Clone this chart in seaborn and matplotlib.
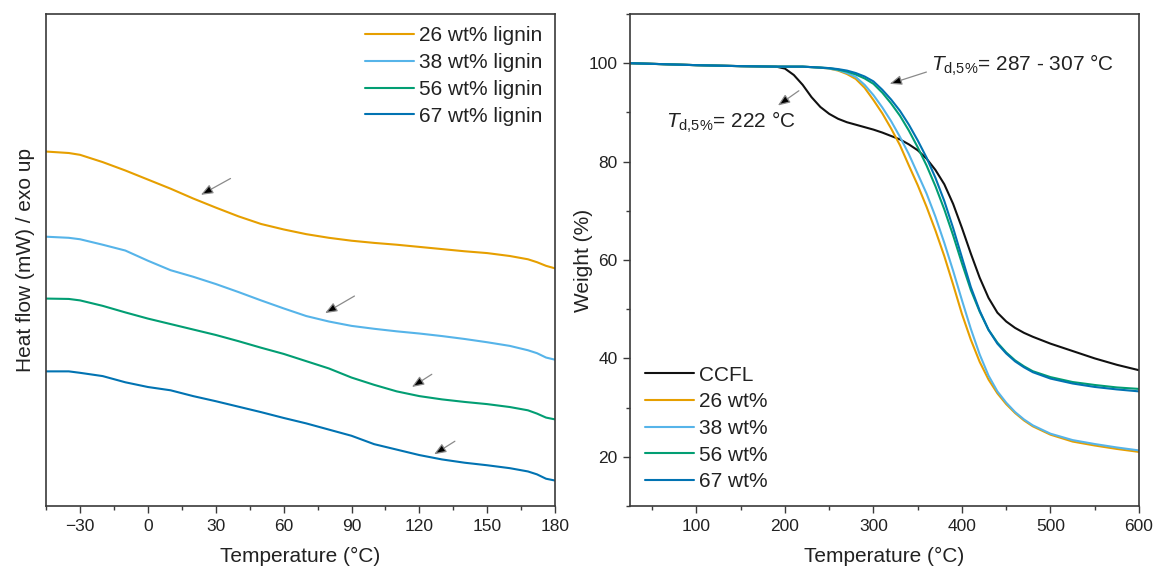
import numpy as np
import pandas as pd
import matplotlib
matplotlib.use("Agg")
import matplotlib.pyplot as plt
from matplotlib.ticker import MultipleLocator
import seaborn as sns

# ---------------- DSC (left) ----------------
dsc_temp = [-45, -35, -30, -20, -10, 0, 10, 20, 30, 40, 50, 60, 70, 80, 90, 100,
            110, 120, 130, 140, 150, 160, 168, 172, 176, 180]
dsc_26 = [9.74, 9.70, 9.65, 9.45, 9.22, 8.97, 8.72, 8.45, 8.20, 7.96, 7.75, 7.60, 7.47,
          7.37, 7.29, 7.23, 7.18, 7.12, 7.06, 7.00, 6.95, 6.87, 6.78, 6.70, 6.60, 6.53]
dsc_38 = [7.40, 7.37, 7.33, 7.18, 7.02, 6.74, 6.48, 6.30, 6.10, 5.88, 5.65, 5.43, 5.22,
          5.07, 4.95, 4.87, 4.80, 4.74, 4.67, 4.59, 4.50, 4.40, 4.28, 4.20, 4.08, 4.02]
dsc_56 = [5.70, 5.69, 5.65, 5.50, 5.32, 5.15, 5.00, 4.85, 4.70, 4.53, 4.35, 4.18, 3.98,
          3.78, 3.53, 3.33, 3.15, 3.02, 2.93, 2.86, 2.80, 2.72, 2.63, 2.54, 2.43, 2.38]
dsc_67 = [3.70, 3.70, 3.66, 3.57, 3.40, 3.27, 3.18, 3.02, 2.88, 2.73, 2.58, 2.42, 2.27,
          2.10, 1.93, 1.70, 1.55, 1.40, 1.28, 1.19, 1.12, 1.04, 0.95, 0.87, 0.75, 0.70]
dsc_labels = ["26 wt% lignin", "38 wt% lignin", "56 wt% lignin", "67 wt% lignin"]
# glass transition markers: (tail T, tail HF, head T, head HF)
tg_arrows = [(36.5, 9.00, 23.4, 8.55), (91.3, 5.77, 78.3, 5.30),
             (125.5, 3.62, 116.7, 3.27), (135.7, 1.78, 126.5, 1.42)]
dsc_xticks = [-30, 0, 30, 60, 90, 120, 150, 180]

# ---------------- TGA (right) ----------------
tga_temp = [25, 100, 150, 190, 200, 210, 220, 230, 240, 250, 260, 270, 280, 290, 300,
            310, 320, 330, 340, 350, 360, 370, 380, 390, 400, 410, 420, 430, 440, 450,
            460, 470, 480, 500, 525, 550, 575, 600]
tga_ccfl = [100, 99.6, 99.4, 99.3, 98.9, 97.6, 95.6, 93.1, 91.1, 89.7, 88.7, 88.0, 87.5,
            87.0, 86.5, 85.9, 85.2, 84.5, 83.5, 82.3, 80.6, 78.3, 75.4, 71.4, 66.5, 61.3,
            56.4, 52.3, 49.3, 47.5, 46.2, 45.2, 44.4, 43.0, 41.5, 40.0, 38.7, 37.6]
tga_26 = [100, 99.6, 99.4, 99.3, 99.3, 99.3, 99.3, 99.2, 99.1, 98.9, 98.5, 97.8, 96.8,
          95.0, 92.5, 89.8, 86.7, 83.3, 79.2, 75.2, 70.8, 66.0, 60.8, 55.0, 49.0, 43.8,
          39.3, 35.7, 32.9, 30.7, 28.9, 27.4, 26.2, 24.5, 23.1, 22.3, 21.6, 21.0]
tga_38 = [100, 99.6, 99.4, 99.3, 99.3, 99.3, 99.3, 99.2, 99.1, 98.9, 98.6, 98.0, 97.2,
          95.6, 93.5, 91.0, 88.2, 85.0, 81.5, 77.5, 73.5, 68.8, 63.5, 57.8, 51.8, 46.0,
          40.8, 36.5, 33.3, 31.0, 29.1, 27.6, 26.4, 24.7, 23.4, 22.6, 21.9, 21.3]
tga_56 = [100, 99.6, 99.4, 99.3, 99.3, 99.3, 99.3, 99.2, 99.1, 99.0, 98.7, 98.3, 97.7,
          96.9, 95.8, 94.0, 91.8, 89.3, 86.3, 82.9, 79.2, 75.0, 70.3, 65.0, 59.3, 53.9,
          49.5, 45.8, 43.2, 41.2, 39.6, 38.4, 37.4, 36.2, 35.2, 34.6, 34.1, 33.8]
tga_67 = [100, 99.6, 99.4, 99.3, 99.3, 99.3, 99.3, 99.2, 99.1, 99.0, 98.8, 98.5, 98.0,
          97.3, 96.3, 94.6, 92.6, 90.3, 87.5, 84.3, 80.8, 76.7, 72.0, 66.5, 60.5, 54.5,
          49.7, 45.8, 43.0, 41.0, 39.4, 38.2, 37.2, 35.9, 34.9, 34.2, 33.7, 33.3]
tga_labels = ["CCFL", "26 wt%", "38 wt%", "56 wt%", "67 wt%"]

# ---------------- style ----------------
sns.set_theme(style="ticks")
plt.rcParams["font.family"] = ["Liberation Sans", "DejaVu Sans"]
plt.rcParams["mathtext.fontset"] = "custom"
plt.rcParams["mathtext.rm"] = "Liberation Sans"
plt.rcParams["mathtext.it"] = "Liberation Sans:italic"

cb = sns.color_palette("colorblind")
c_black = "#111111"
c_26, c_38, c_56, c_67 = "#E69F00", cb[9], cb[2], cb[0]
spine_col = "#3a3a3a"
text_col = "#222222"

fig = plt.figure(figsize=(11.54, 5.71), dpi=100)
ax1 = fig.add_axes([0.040, 0.1138, 0.441, 0.8617])
ax2 = fig.add_axes([0.546, 0.1138, 0.441, 0.8617])

LW = 1.5
ARROW = dict(arrowstyle="-|>,head_length=0.6,head_width=0.24",
             fc="black", ec="#8a8a8a", lw=0.9, shrinkA=0, shrinkB=0)

# DSC curves
for vals, col, lab in zip([dsc_26, dsc_38, dsc_56, dsc_67], [c_26, c_38, c_56, c_67], dsc_labels):
    df = pd.DataFrame({"T": dsc_temp, "HF": vals})
    sns.lineplot(data=df, x="T", y="HF", ax=ax1, color=col, lw=LW, label=lab,
                 estimator=None, sort=False)

for tx, ty, hx, hy in tg_arrows:
    ax1.annotate("", xy=(hx, hy), xytext=(tx, ty), arrowprops=ARROW)

ax1.set_xlim(-45, 180)
ax1.set_ylim(0, 13.52)
ax1.set_xticks(dsc_xticks)
ax1.set_xticklabels([f"\u2212{abs(t)}" if t < 0 else str(t) for t in dsc_xticks])
ax1.xaxis.set_minor_locator(MultipleLocator(15))
ax1.set_yticks([])
ax1.set_xlabel("Temperature (\u00b0C)", fontsize=15, labelpad=10)
ax1.set_ylabel("Heat flow (mW) / exo up", fontsize=15, labelpad=8)
ax1.legend(loc="upper right", frameon=False, fontsize=15, handlelength=2.35,
           handletextpad=0.25, labelspacing=0.37, borderaxespad=0.2,
           bbox_to_anchor=(1.0, 1.0))

# TGA curves
for vals, col, lab in zip([tga_ccfl, tga_26, tga_38, tga_56, tga_67],
                          [c_black, c_26, c_38, c_56, c_67], tga_labels):
    df = pd.DataFrame({"T": tga_temp, "W": vals})
    sns.lineplot(data=df, x="T", y="W", ax=ax2, color=col, lw=LW, label=lab,
                 estimator=None, sort=False)

ax2.annotate("", xy=(192, 91.4), xytext=(215.7, 94.4), arrowprops=ARROW)
ax2.annotate("", xy=(318.3, 95.8), xytext=(359.8, 98.2), arrowprops=ARROW)
ax2.text(66, 88.0, r"$\mathit{T}_{\mathrm{d{,}5\%}}$= 222 °C", fontsize=15, va="center", ha="left",
         color=text_col)
ax2.text(365.5, 99.5, r"$\mathit{T}_{\mathrm{d{,}5\%}}$= 287 - 307 °C", fontsize=15, va="center",
         ha="left", color=text_col)

ax2.set_xlim(25, 600)
ax2.set_ylim(10, 110)
ax2.set_xticks([100, 200, 300, 400, 500, 600])
ax2.set_yticks([20, 40, 60, 80, 100])
ax2.xaxis.set_minor_locator(MultipleLocator(50))
ax2.yaxis.set_minor_locator(MultipleLocator(10))
ax2.set_xlabel("Temperature (\u00b0C)", fontsize=15, labelpad=10)
ax2.set_ylabel("Weight (%)", fontsize=15, labelpad=-3)
ax2.legend(loc="lower left", frameon=False, fontsize=15, handlelength=2.35,
           handletextpad=0.25, labelspacing=0.37, borderaxespad=0.3)

for ax in (ax1, ax2):
    for s in ax.spines.values():
        s.set_visible(True)
        s.set_color(spine_col)
        s.set_linewidth(1.2)
    ax.tick_params(axis="both", which="major", direction="out", length=5, width=1.0,
                   pad=4, color=spine_col, labelsize=12.5, labelcolor=text_col,
                   top=False, right=False)
    ax.tick_params(axis="both", which="minor", direction="out", length=3, width=1.0,
                   color=spine_col, top=False, right=False)
    ax.xaxis.label.set_color(text_col)
    ax.yaxis.label.set_color(text_col)
    for t in ax.get_legend().get_texts():
        t.set_color(text_col)

fig.savefig("out.png", dpi=100)
